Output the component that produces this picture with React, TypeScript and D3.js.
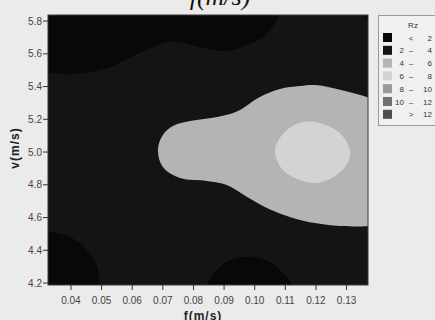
import React from 'react';
import * as d3 from 'd3';

const W = 435;
const H = 320;

// axis ticks
const xTicks = [0.04, 0.05, 0.06, 0.07, 0.08, 0.09, 0.1, 0.11, 0.12, 0.13];
const yTicks = [4.2, 4.4, 4.6, 4.8, 5.0, 5.2, 5.4, 5.6, 5.8];

// legend bands
const bandLo = ['', '2', '4', '6', '8', '10', ''];
const bandSym = ['<', '–', '–', '–', '–', '–', '>'];
const bandHi = ['2', '4', '6', '8', '10', '12', '12'];
const bandColors = ['#080808', '#141414', '#b4b4b4', '#d3d3d3', '#9a9a9a', '#707070', '#4e4e4e'];

// contour region boundaries (f, v), band index
const darkTopLeft: [number, number][] = [
  [0.0312, 5.861], [0.0312, 5.482], [0.0331, 5.482], [0.0407, 5.476], [0.0518, 5.513],
  [0.0625, 5.605], [0.0713, 5.672], [0.0756, 5.672], [0.0821, 5.641], [0.0896, 5.617],
  [0.0975, 5.653], [0.1027, 5.702], [0.1073, 5.806], [0.1086, 5.861],
];
const darkBottomLeft: [number, number][] = [
  [0.0312, 4.163], [0.0312, 4.511], [0.0331, 4.511], [0.038, 4.493], [0.0429, 4.444],
  [0.0462, 4.377], [0.0485, 4.304], [0.0495, 4.188], [0.0498, 4.163],
];
const darkBottomMid: [number, number][] = [
  [0.0837, 4.163], [0.0844, 4.188], [0.0877, 4.279], [0.0919, 4.34], [0.0984, 4.359],
  [0.105, 4.328], [0.1092, 4.261], [0.1122, 4.188], [0.1128, 4.163],
];
const darkTopRight: [number, number][] = [
  [0.1343, 5.861], [0.1353, 5.837], [0.137, 5.794], [0.1385, 5.794], [0.1385, 5.861],
];
const band46: [number, number][] = [
  [0.1383, 5.324], [0.1366, 5.336], [0.1321, 5.36], [0.1268, 5.385], [0.1197, 5.409],
  [0.1148, 5.403], [0.1082, 5.385], [0.1017, 5.336], [0.0952, 5.257], [0.0919, 5.232],
  [0.0877, 5.214], [0.0789, 5.189], [0.0733, 5.159], [0.07, 5.104], [0.0684, 5.012],
  [0.07, 4.908], [0.0756, 4.841], [0.0844, 4.823], [0.0909, 4.798], [0.0975, 4.725],
  [0.104, 4.658], [0.1148, 4.585], [0.1278, 4.548], [0.1383, 4.548],
];
const band68: [number, number][] = [
  [0.1066, 5.012], [0.1105, 5.134], [0.1157, 5.183], [0.1213, 5.177], [0.1278, 5.116],
  [0.1311, 5.012], [0.1304, 4.933], [0.1268, 4.86], [0.1203, 4.811], [0.1148, 4.829],
  [0.1092, 4.89],
];

const regions = [
  { pts: darkTopLeft, band: 0, closed: false },
  { pts: darkBottomLeft, band: 0, closed: false },
  { pts: darkBottomMid, band: 0, closed: false },
  { pts: darkTopRight, band: 0, closed: false, linear: true },
  { pts: band46, band: 2, closed: false },
  { pts: band68, band: 3, closed: true },
];

const PL = 48, PR = 368, PT = 15, PB = 285;
const x = d3.scaleLinear().domain([0.0325, 0.137]).range([PL, PR]);
const y = d3.scaleLinear().domain([4.188, 5.837]).range([PB, PT]);

export default function App() {
  const mk = (r: any) => {
    const line = d3
      .line<[number, number]>()
      .x((d) => x(d[0]))
      .y((d) => y(d[1]))
      .curve(r.linear ? d3.curveLinear : r.closed ? d3.curveCatmullRomClosed.alpha(0.5) : d3.curveCatmullRom.alpha(0.5));
    return (line(r.pts) || '') + 'Z';
  };
  const tickFont = 'Liberation Sans, Arial, sans-serif';
  return (
    <svg width={W} height={H} style={{ position: 'fixed', left: 0, top: 0, background: '#ebebeb' }}>
      <rect x={0} y={0} width={W} height={H} fill="#ebebeb" />
      <text x={220} y={5} textAnchor="middle" fontFamily="Liberation Serif, serif" fontStyle="italic" fontSize={26} fill="#111">
        f(m/s)
      </text>
      <defs>
        <clipPath id="plotclip">
          <rect x={PL} y={PT} width={PR - PL} height={PB - PT} />
        </clipPath>
      </defs>
      <g clipPath="url(#plotclip)">
        <rect x={PL} y={PT} width={PR - PL} height={PB - PT} fill={bandColors[1]} />
        {regions.map((r, i) => (
          <path key={i} d={mk(r)} fill={bandColors[r.band]} />
        ))}
      </g>
      <rect x={PL} y={PT} width={PR - PL} height={PB - PT} fill="none" stroke="#3a3a3a" strokeWidth={1} />
      {/* y axis */}
      {yTicks.map((t) => (
        <g key={'y' + t}>
          <line x1={PL - 5} x2={PL} y1={y(t)} y2={y(t)} stroke="#333" />
          <text x={PL - 6} y={y(t) + 3.5} textAnchor="end" fontFamily={tickFont} fontSize={10} fill="#444">
            {t.toFixed(1)}
          </text>
        </g>
      ))}
      {xTicks.map((t) => (
        <g key={'x' + t}>
          <line x1={x(t)} x2={x(t)} y1={PB} y2={PB + 5} stroke="#333" />
          <text x={x(t)} y={304} textAnchor="middle" fontFamily={tickFont} fontSize={10} fill="#444">
            {t.toFixed(2)}
          </text>
        </g>
      ))}
      <text x={203} y={320} textAnchor="middle" fontFamily={tickFont} fontWeight="bold" fontSize={12} letterSpacing={1} fill="#222">
        f(m/s)
      </text>
      <text transform="translate(19,148) rotate(-90)" textAnchor="middle" fontFamily={tickFont} fontWeight="bold" fontSize={12} letterSpacing={1} fill="#222">
        v(m/s)
      </text>
      {/* legend */}
      <rect x={378.5} y={15.5} width={70} height={110} fill="#f0f0f0" stroke="#9a9a9a" />
      <text x={413} y={28} textAnchor="middle" fontFamily={tickFont} fontSize={8} fill="#333">Rz</text>
      {bandColors.map((c, i) => {
        const yy = 33 + i * 12.8;
        return (
          <g key={'l' + i}>
            <rect x={383} y={yy} width={9} height={9} fill={c} />
            <text x={404} y={yy + 7.5} textAnchor="end" fontFamily={tickFont} fontSize={8} fill="#333">{bandLo[i]}</text>
            <text x={411} y={yy + 7.5} textAnchor="middle" fontFamily={tickFont} fontSize={8} fill="#333">{bandSym[i]}</text>
            <text x={432} y={yy + 7.5} textAnchor="end" fontFamily={tickFont} fontSize={8} fill="#333">{bandHi[i]}</text>
          </g>
        );
      })}
    </svg>
  );
}
